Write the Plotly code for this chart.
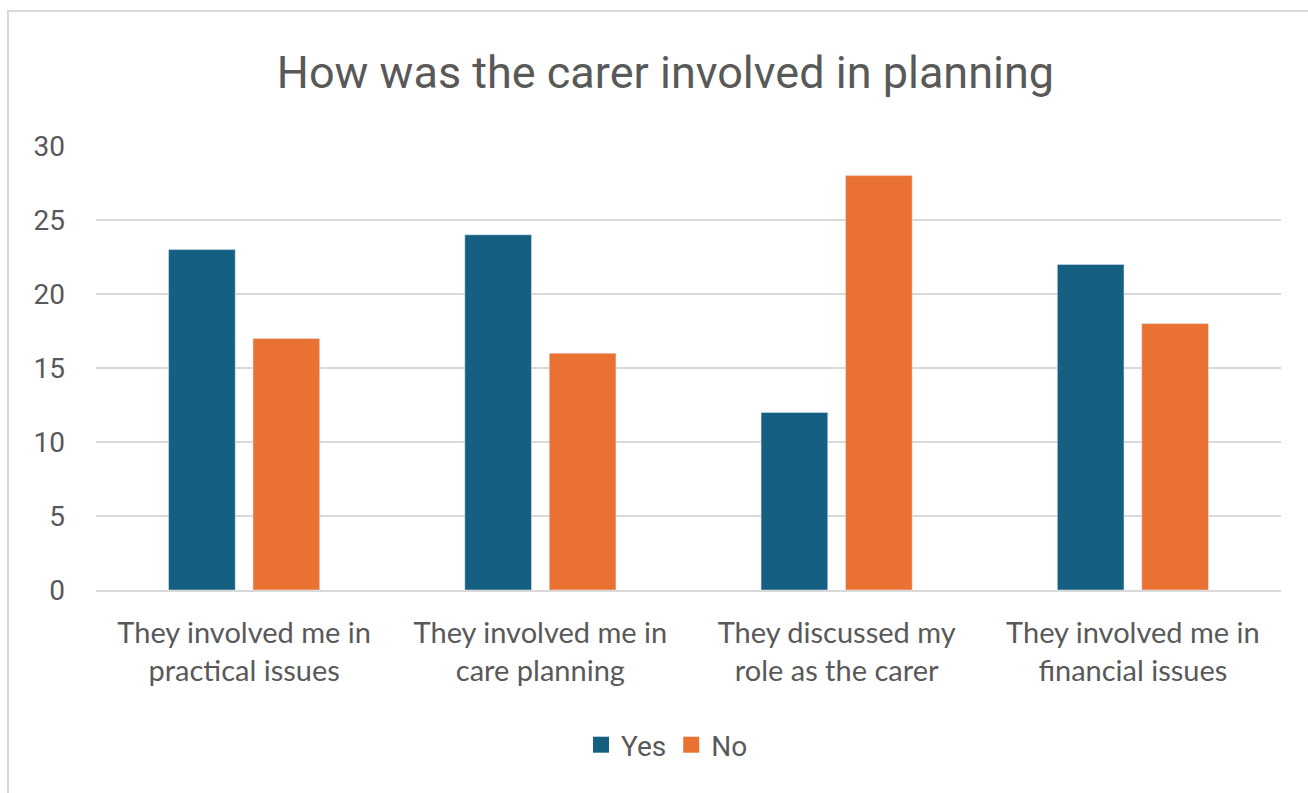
import plotly.graph_objects as go

categories = [
    "They involved me in<br>practical issues",
    "They involved me in<br>care planning",
    "They discussed my<br>role as the carer",
    "They involved me in<br>financial issues",
]
yes_values = [23, 24, 12, 22]
no_values = [17, 16, 28, 18]
y_ticks = [0, 5, 10, 15, 20, 25, 30]
series_names = ["Yes", "No"]
series_colors = ["#156082", "#E97132"]

W, H = 1308, 793
L, R, T, B = 96, 27, 146, 203
pw, ph = W - L - R, H - T - B

text_color = "#595959"
grid_color = "#D9D9D9"

fig = go.Figure()
for name, vals, col in zip(series_names, [yes_values, no_values], series_colors):
    fig.add_trace(go.Bar(name=name, x=categories, y=vals, marker_color=col,
                         legendgroup=name, showlegend=False))
    # square legend key
    fig.add_trace(go.Scatter(name=name, x=[None], y=[None], mode="markers",
                             marker=dict(symbol="square", size=18, color=col),
                             legendgroup=name, showlegend=True))

# chart-area frame
fig.add_shape(
    type="rect", xref="paper", yref="paper",
    x0=(8 - L) / pw, x1=(W + 20 - L) / pw,
    y0=-(H + 20 - (T + ph)) / ph, y1=(T + ph - 11) / ph,
    line=dict(color=grid_color, width=2), fillcolor="rgba(0,0,0,0)", layer="below",
)

fig.update_layout(
    width=W, height=H,
    margin=dict(l=L, r=R, t=T, b=B),
    paper_bgcolor="white", plot_bgcolor="white",
    barmode="group", bargap=0.43, bargroupgap=0.21,
    title=dict(
        text="How was the carer involved in planning",
        x=665.5 / W, xref="container", xanchor="center",
        y=1 - 72 / H, yanchor="middle",
        font=dict(family="Roboto", size=45, color=text_color),
    ),
    font=dict(family="Lato", color=text_color),
    legend=dict(
        orientation="h", x=(667 - L) / pw, xanchor="center",
        y=-(745 - (T + ph)) / ph, yanchor="middle",
        font=dict(family="Roboto", size=28, color=text_color),
        itemwidth=30, tracegroupgap=0,
    ),
    showlegend=True,
)
fig.update_xaxes(
    showgrid=False, showline=True, linecolor=grid_color, linewidth=2,
    tickfont=dict(family="Lato", size=29, color=text_color),
    ticks="", ticklabelstandoff=16,
)
fig.update_yaxes(
    range=[0, 30], tickvals=y_ticks,
    showgrid=True, gridcolor=grid_color, gridwidth=1.5,
    zeroline=False, showline=False,
    tickfont=dict(family="Roboto", size=28, color=text_color),
    ticks="", ticklabelstandoff=30,
)

fig.write_html("out.html")
